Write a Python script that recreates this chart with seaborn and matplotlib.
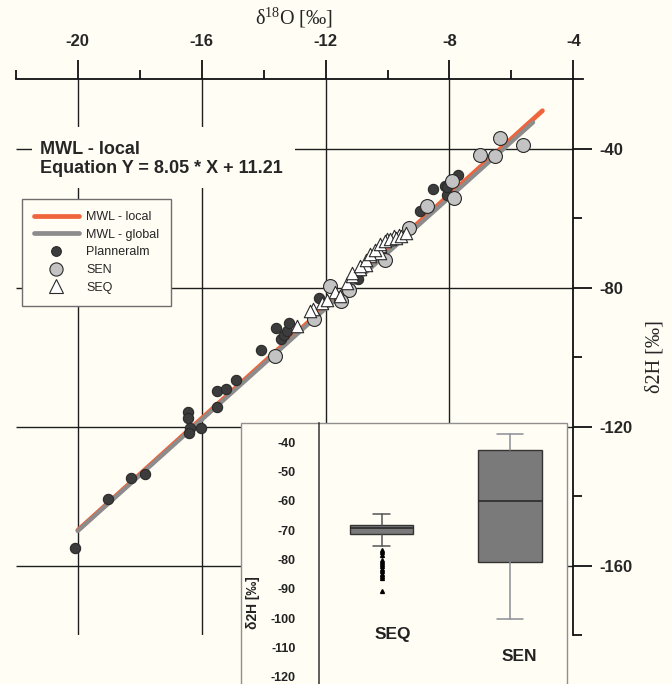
import numpy as np
import pandas as pd
import matplotlib
matplotlib.use("Agg")
import matplotlib.pyplot as plt
from matplotlib.lines import Line2D
from matplotlib.patches import Rectangle
import seaborn as sns

# ---------------- data ----------------
# Planneralm precipitation samples (d18O, d2H)
plan_d18o = [-20.09, -19.01, -18.29, -17.82, -16.44, -16.44, -16.39, -16.42, -16.01,
             -15.51, -15.51, -15.22, -14.88, -14.08, -13.59, -13.44, -13.35, -13.25,
             -13.17, -12.22, -10.96, -8.94, -8.53, -8.13, -7.72, -8.07, -8.07]
plan_d2h = [-154.9, -140.7, -134.6, -133.7, -115.8, -117.4, -120.3, -121.7, -120.4,
            -114.4, -109.8, -109.1, -106.6, -97.9, -91.7, -94.7, -93.7, -92.5,
            -90.1, -82.9, -77.6, -58.0, -51.6, -50.6, -47.5, -53.2, -50.9]

# SEN samples
sen_d18o = [-13.62, -12.36, -11.85, -11.25, -11.49, -10.09, -9.31, -8.72, -7.91,
            -7.86, -7.00, -6.54, -6.38, -5.63]
sen_d2h = [-99.5, -89.1, -79.5, -80.5, -83.9, -71.9, -62.7, -56.5, -49.3,
           -54.1, -41.9, -42.1, -36.8, -39.0]

# SEQ samples
seq_d18o = [-12.92, -12.39, -12.11, -11.95, -12.50, -11.70, -11.52, -11.31, -11.14,
            -10.88, -10.71, -10.55, -10.34, -10.23, -10.01, -9.80, -9.64, -10.23,
            -11.14, -10.88, -10.71, -10.55, -10.39, -10.23, -10.07, -9.91, -9.74,
            -9.58, -9.42]
seq_d2h = [-91.0, -86.2, -84.3, -83.4, -86.6, -81.2, -82.4, -78.6, -76.7,
           -74.7, -73.3, -70.9, -69.0, -68.0, -66.1, -65.2, -64.7, -69.9,
           -75.7, -73.8, -71.9, -70.4, -69.0, -67.5, -66.6, -66.1, -65.6,
           -65.2, -64.2]

# meteoric water lines
local_slope, local_intercept = 8.05, 11.21
global_slope, global_intercept = 8.0, 10.0
local_x = [-20.0, -5.0]
global_x = [-20.0, -5.3]

# axis ticks
x_major = [-20, -16, -12, -8, -4]
x_minor = [-22, -18, -14, -10, -6]
y_major = [-40, -80, -120, -160]
y_minor = [-60, -100, -140, -180]

# box plot summaries of d2H
box_labels = ["SEQ", "SEN"]
box_whislo = [-75.3, -100.2]
box_q1 = [-71.2, -80.7]
box_med = [-69.4, -60.0]
box_q3 = [-68.3, -42.6]
box_whishi = [-64.6, -37.2]
seq_outliers = [-76.8, -77.6, -78.4, -80.2, -80.9, -81.6, -82.3, -83.1, -84.0,
                -84.9, -85.7, -86.4, -90.6]
inset_y_major = [-40, -50, -60, -70, -80, -90, -100, -110, -120]

# ---------------- style ----------------
BG = "#fffdf4"
ORANGE = "#f0643c"
LGRAY = "#8c8c8c"
DARK = "#3c3c3c"
SENFILL = "#c3c3c3"
EDGE = "#2a2a2a"

sns.set_style("white")
plt.rcParams["font.family"] = ["Liberation Sans", "DejaVu Sans"]
plt.rcParams["mathtext.fontset"] = "custom"
plt.rcParams["mathtext.rm"] = "Liberation Serif"

W, H = 672, 684
fig = plt.figure(figsize=(W / 100, H / 100), dpi=100, facecolor=BG)


def fx(px):
    return px / W


def fy(py):
    return 1 - py / H


# ---------------- main axes ----------------
ax = fig.add_axes([fx(15.8), fy(635.3), fx(582.7) - fx(15.8), fy(79.3) - fy(635.3)])
ax.set_facecolor(BG)
ax.set_xlim(-22, -3.7)
ax.set_ylim(-180, -20)

# grid
for xv in x_major[:-1]:
    ax.vlines(xv, -180, -20, color="#1e1e1e", lw=1.0, zorder=1)
for yv in y_major:
    ax.hlines(yv, -22, -4, color="#1e1e1e", lw=1.0, zorder=1)

# spines
for s in ["left", "bottom"]:
    ax.spines[s].set_visible(False)
ax.spines["right"].set_position(("data", -4))
for s in ["top", "right"]:
    ax.spines[s].set_color("#111111")
    ax.spines[s].set_linewidth(1.3)

ax.xaxis.tick_top()
ax.yaxis.tick_right()
ax.set_xticks(x_major)
ax.set_xticks(x_minor, minor=True)
ax.set_yticks(y_major)
ax.set_yticks(y_minor, minor=True)
ax.set_xticklabels([str(v) for v in x_major], fontweight="bold", fontsize=12)
ax.set_yticklabels([str(v) for v in y_major], fontweight="bold", fontsize=12)
ax.tick_params(which="major", direction="out", length=13.5, width=1.3, color="#111111")
ax.tick_params(which="minor", direction="out", length=6.5, width=1.3, color="#111111")
ax.tick_params(axis="x", which="major", pad=8)
ax.tick_params(axis="y", which="major", pad=5)
ax.set_xlabel("")
ax.set_ylabel("")

# meteoric water lines
local_df = pd.DataFrame({"x": local_x,
                         "y": [local_slope * v + local_intercept for v in local_x]})
global_df = pd.DataFrame({"x": global_x,
                          "y": [global_slope * v + global_intercept for v in global_x]})
sns.lineplot(data=local_df, x="x", y="y", ax=ax, color=ORANGE, lw=3.4,
             solid_capstyle="round", zorder=3, sort=False)
sns.lineplot(data=global_df, x="x", y="y", ax=ax, color=LGRAY, lw=3.0,
             solid_capstyle="round", zorder=3.1, sort=False)

# samples
plan_df = pd.DataFrame({"d18O": plan_d18o, "d2H": plan_d2h})
sen_df = pd.DataFrame({"d18O": sen_d18o, "d2H": sen_d2h})
seq_df = pd.DataFrame({"d18O": seq_d18o, "d2H": seq_d2h})
sns.scatterplot(data=plan_df, x="d18O", y="d2H", ax=ax, marker="o", s=55,
                color=DARK, edgecolor=EDGE, linewidth=0.8, zorder=4, legend=False)
sns.scatterplot(data=sen_df, x="d18O", y="d2H", ax=ax, marker="o", s=100,
                color=SENFILL, edgecolor=EDGE, linewidth=0.8, zorder=5, legend=False)
sns.scatterplot(data=seq_df, x="d18O", y="d2H", ax=ax, marker="^", s=80,
                color="white", edgecolor=EDGE, linewidth=0.8, zorder=6, legend=False)
ax.set_xlabel("")
ax.set_ylabel("")

# equation annotation with a plain background
ax.add_patch(Rectangle((fx(32), fy(188)), fx(295) - fx(32), fy(127) - fy(188),
                       transform=fig.transFigure, facecolor=BG, edgecolor="none",
                       zorder=2))
ax.text(fx(40), fy(154), "MWL - local", transform=fig.transFigure,
        fontsize=13, fontweight="bold", va="baseline", ha="left", zorder=7)
ax.text(fx(40), fy(173.3), "Equation Y = 8.05 * X + 11.21", transform=fig.transFigure,
        fontsize=13, fontweight="bold", va="baseline", ha="left", zorder=7)

# legend
handles = [
    Line2D([], [], color=ORANGE, lw=3.4),
    Line2D([], [], color=LGRAY, lw=3.4),
    Line2D([], [], ls="none", marker="o", ms=7, mfc=DARK, mec=EDGE, mew=0.8),
    Line2D([], [], ls="none", marker="o", ms=9.5, mfc=SENFILL, mec=EDGE, mew=0.8),
    Line2D([], [], ls="none", marker="^", ms=9.5, mfc="white", mec=EDGE, mew=0.8),
]
leg = ax.legend(handles, ["MWL - local", "MWL - global", "Planneralm", "SEN", "SEQ"],
                loc="upper left", bbox_to_anchor=(fx(21.7), fy(199.3)),
                bbox_transform=fig.transFigure, borderaxespad=0, fontsize=9,
                frameon=True, fancybox=False, framealpha=1, facecolor=BG,
                edgecolor="#6e6e6e", borderpad=0.95, labelspacing=0.45,
                handlelength=3.6, handletextpad=0.6)
leg.get_frame().set_linewidth(1.0)
leg.set_zorder(8)

# axis titles
fig.text(fx(294), fy(18), "δ$^{18}$O [‰]", family="Liberation Serif", fontsize=14.5,
         ha="center", va="center")
fig.text(fx(655), fy(357), "δ2H [‰]", family="Liberation Serif", fontsize=14.5,
         ha="center", va="center", rotation=90)

# ---------------- inset box plot ----------------
frame = Rectangle((fx(241), -0.02), fx(566.7) - fx(241), fy(422.7) + 0.02,
                  transform=fig.transFigure, facecolor=BG, edgecolor="#8f8f8f",
                  lw=1.0, zorder=1)
fig.add_artist(frame)

iax = fig.add_axes([fx(319), 0.0, fx(566.7) - fx(319), fy(422.7)], zorder=2)
iax.patch.set_alpha(0)
iax.set_xlim(0.511, 2.442)
iax.set_ylim(-122.4, -33.4)

stats = []
for i, lab in enumerate(box_labels):
    stats.append(dict(label=lab, whislo=box_whislo[i], q1=box_q1[i], med=box_med[i],
                      q3=box_q3[i], whishi=box_whishi[i],
                      fliers=seq_outliers if lab == "SEQ" else []))
bp = iax.bxp(stats, positions=[1, 2], widths=0.495, capwidths=[0.13, 0.195],
             patch_artist=True, showfliers=True,
             boxprops=dict(facecolor="#7a7a7a", edgecolor="#333333", lw=1.0),
             medianprops=dict(color="#2a2a2a", lw=1.2),
             whiskerprops=dict(color="#555555", lw=1.1),
             capprops=dict(color="#555555", lw=1.1),
             flierprops=dict(marker="^", ms=2.8, mfc="black", mec="black"))
for art in bp["whiskers"][2:] + bp["caps"][2:]:
    art.set_color("#8a8e96")

for s in ["top", "right", "bottom"]:
    iax.spines[s].set_visible(False)
iax.spines["left"].set_color("#333333")
iax.spines["left"].set_linewidth(1.1)
iax.set_xticks([])
iax.set_yticks(inset_y_major)
iax.set_yticks(np.arange(-115, -30, 10), minor=True)
iax.set_yticklabels([str(v) for v in inset_y_major], fontweight="bold", fontsize=9,
                    color="#222222")
iax.tick_params(axis="y", which="major", direction="out", length=12, width=1.1,
                color="#333333", pad=5)
iax.tick_params(axis="y", which="minor", direction="out", length=6, width=1.1,
                color="#333333")

iax.text(1.09, -105.6, "SEQ", fontsize=12.5, fontweight="bold", ha="center",
         va="center", color="#222222")
iax.text(2.07, -112.9, "SEN", fontsize=12.5, fontweight="bold", ha="center",
         va="center", color="#222222")
fig.text(fx(253), fy(603), "δ2H [‰]", fontsize=10, fontweight="bold", ha="center",
         va="center", rotation=90, color="#222222", zorder=3)

fig.savefig("out.png", dpi=100, facecolor=BG)
